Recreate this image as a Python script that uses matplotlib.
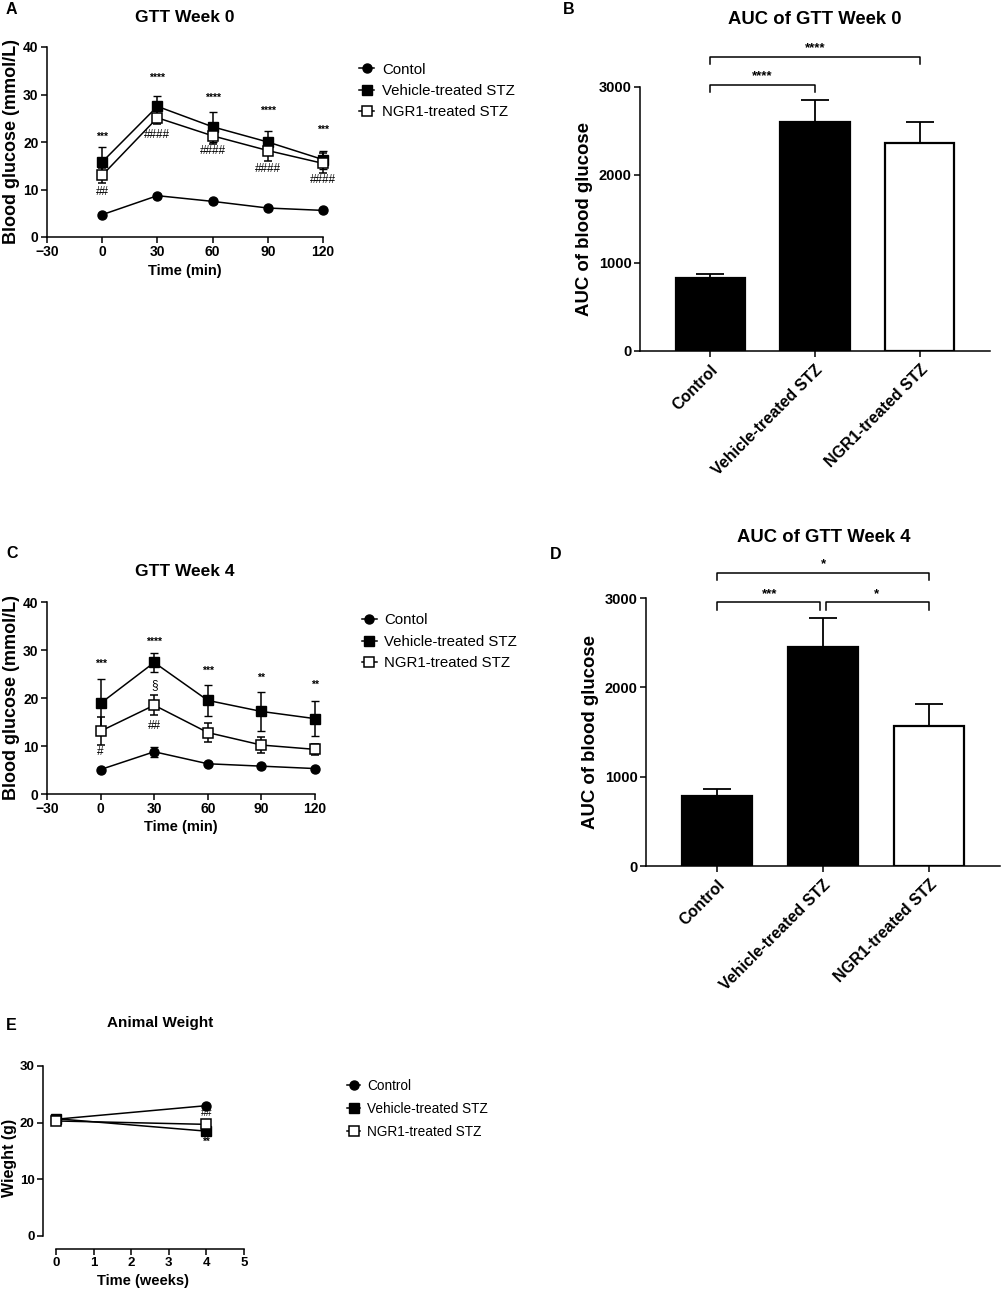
import matplotlib
matplotlib.use('Agg')
import matplotlib.pyplot as plt

plt.rcParams['font.family'] = ['Liberation Sans', 'DejaVu Sans']
plt.rcParams['axes.linewidth'] = 1.1

# ---- GTT time course data (mean, sd) ----
times = [0, 30, 60, 90, 120]
groups_line = ['Contol', 'Vehicle-treated STZ', 'NGR1-treated STZ']

w0_ctrl = [4.7, 8.7, 7.5, 6.1, 5.6]
w0_ctrl_sd = [0.3, 0.4, 0.3, 0.3, 0.3]
w0_veh = [15.8, 27.5, 23.2, 20.0, 16.3]
w0_veh_sd = [3.1, 2.2, 3.1, 2.3, 1.9]
w0_ngr = [13.0, 25.1, 21.3, 18.2, 15.5]
w0_ngr_sd = [1.6, 1.4, 1.7, 2.3, 2.1]
w0_star = ['***', '****', '****', '****', '***']
w0_star_y = [21.0, 33.5, 29.4, 26.5, 22.5]
w0_hash = ['##', '####', '####', '####', '####']
w0_hash_y = [9.4, 21.5, 18.1, 14.3, 11.9]

w4_ctrl = [5.1, 8.8, 6.3, 5.8, 5.3]
w4_ctrl_sd = [0.3, 1.0, 0.3, 0.3, 0.3]
w4_veh = [18.9, 27.4, 19.5, 17.2, 15.7]
w4_veh_sd = [5.0, 2.0, 3.3, 4.0, 3.7]
w4_ngr = [13.1, 18.5, 12.8, 10.2, 9.3]
w4_ngr_sd = [2.9, 2.1, 2.0, 1.6, 1.1]
w4_star = ['***', '****', '***', '**', '**']
w4_star_y = [27.2, 31.7, 25.7, 24.2, 22.7]
w4_hash = ['#', '##']
w4_hash_x = [0, 30]
w4_hash_y = [8.7, 14.2]
w4_sect = '\u00a7'
w4_sect_x = 30
w4_sect_y = 22.7

# ---- AUC data ----
auc_groups = ['Control', 'Vehicle-treated STZ', 'NGR1-treated STZ']
auc_w0 = [830, 2602, 2364]
auc_w0_sd = [45, 250, 238]
# (left bar, right bar, label, bracket height)
auc_w0_cmp = [(0, 1, '****', 3027), (0, 2, '****', 3345)]
auc_w4 = [786, 2446, 1567]
auc_w4_sd = [71, 330, 247]
auc_w4_cmp = [(0, 1, '***', 2951), (1, 2, '*', 2951), (0, 2, '*', 3281)]

# ---- body weight ----
weeks = [0, 4]
groups_wt = ['Control', 'Vehicle-treated STZ', 'NGR1-treated STZ']
wt_ctrl = [20.6, 23.0]
wt_veh = [20.7, 18.5]
wt_ngr = [20.3, 19.7]
wt_ctrl_sd = [0.3, 0.3]
wt_veh_sd = [0.4, 0.6]
wt_ngr_sd = [0.4, 0.6]
wt_marks = ['##', '**']
wt_marks_y = [21.7, 16.6]

fig = plt.figure(figsize=(10.03, 12.94), dpi=100)
W, H = 1003.0, 1294.0


def px_axes(x0, y0, x1, y1):
    # axes from pixel box (top-left origin)
    return fig.add_axes([x0 / W, 1 - y1 / H, (x1 - x0) / W, (y1 - y0) / H])


def style_axes(ax, fs):
    for s in ['top', 'right']:
        ax.spines[s].set_visible(False)
    ax.tick_params(width=1.1, length=4, labelsize=fs, pad=2)
    for lab in ax.get_xticklabels() + ax.get_yticklabels():
        lab.set_fontweight('bold')


def noclip(cont):
    for art in cont.get_children():
        art.set_clip_on(False)


def three_lines(ax, x, ctrl, ctrl_sd, veh, veh_sd, ngr, ngr_sd, cap):
    c1 = ax.errorbar(x, ctrl, yerr=ctrl_sd, color='black', marker='o', ms=6.5, lw=1.1,
                     capsize=cap, elinewidth=1.1)
    c2 = ax.errorbar(x, veh, yerr=veh_sd, color='black', marker='s', ms=6.5, lw=1.1,
                     capsize=cap, elinewidth=1.1)
    c3 = ax.errorbar(x, ngr, yerr=ngr_sd, color='black', marker='s', ms=6.5, lw=1.1,
                     mfc='white', mew=1.1, capsize=cap, elinewidth=1.1)
    for c in (c1, c2, c3):
        noclip(c)
    return [c1[0], c2[0], c3[0]]


def gtt_panel(box, ctrl, ctrl_sd, veh, veh_sd, ngr, ngr_sd, title, letter, letter_xy, title_y, leg_xy):
    ax = px_axes(*box)
    handles = three_lines(ax, times, ctrl, ctrl_sd, veh, veh_sd, ngr, ngr_sd, 3)
    ax.set_xlim(-30, 120)
    ax.set_ylim(0, 40)
    ax.set_xticks([-30, 0, 30, 60, 90, 120])
    ax.set_yticks([0, 10, 20, 30, 40])
    style_axes(ax, 10)
    ax.set_xlabel('Time (min)', fontsize=10.5, fontweight='bold', labelpad=3)
    ax.set_ylabel('Blood glucose (mmol/L)', fontsize=13, fontweight='bold', labelpad=2)
    fig.text(185 / W, 1 - title_y / H, title, fontsize=12.5, fontweight='bold', ha='center', va='center')
    fig.text(letter_xy[0] / W, 1 - letter_xy[1] / H, letter, fontsize=11.5, fontweight='bold', ha='left', va='center')
    ax.legend(handles, groups_line, loc='upper left', bbox_to_anchor=(leg_xy[0] / W, 1 - leg_xy[1] / H),
              bbox_transform=fig.transFigure, frameon=False, fontsize=10.8,
              handlelength=1.0, handletextpad=0.5, labelspacing=0.5, borderpad=0)
    return ax


def auc_panel(box, vals, sds, cmps, title, title_xy, letter, letter_xy):
    ax = px_axes(*box)
    x = list(range(len(vals)))
    ax.bar(x, vals, width=0.66, color=['black', 'black', 'white'], edgecolor='black', linewidth=1.6, zorder=2)
    ax.errorbar(x, vals, yerr=[[0] * len(vals), sds], fmt='none', ecolor='black',
                elinewidth=1.3, capsize=10, capthick=1.3, zorder=1)
    ax.set_xlim(-0.67, 2.67)
    ax.set_ylim(0, 3000)
    ax.set_yticks([0, 1000, 2000, 3000])
    ax.set_xticks(x)
    ax.set_xticklabels(auc_groups, rotation=45, ha='right', rotation_mode='anchor')
    style_axes(ax, 10.5)
    ax.tick_params(axis='x', labelsize=11.5, pad=4)
    ax.set_ylabel('AUC of blood glucose', fontsize=13.4, fontweight='bold', labelpad=4)
    # significance brackets
    for i, j, lab, top in cmps:
        tip = top - 85
        # shared middle bar: leave a small gap between neighbouring brackets
        xi = i + (0.025 if (i > 0) else 0)
        xj = j - (0.025 if (j < len(vals) - 1 and len(cmps) > 2) else 0)
        ax.plot([xi, xi, xj, xj], [tip, top, top, tip], color='black', lw=1.1, clip_on=False)
        ax.text((i + j) / 2, top + 95, lab, ha='center', va='center', fontsize=9.5, fontweight='bold')
    fig.text(title_xy[0] / W, 1 - title_xy[1] / H, title, fontsize=13.3, fontweight='bold', ha='center', va='center')
    fig.text(letter_xy[0] / W, 1 - letter_xy[1] / H, letter, fontsize=11.5, fontweight='bold', ha='left', va='center')
    return ax


# ---- A ----
axA = gtt_panel((47, 47, 323, 237), w0_ctrl, w0_ctrl_sd, w0_veh, w0_veh_sd, w0_ngr, w0_ngr_sd,
                'GTT Week 0', 'A', (6, 10), 18, (352, 55))
for t, s, y in zip(times, w0_star, w0_star_y):
    axA.text(t, y, s, ha='center', va='center', fontsize=7.5, fontweight='bold')
for t, s, y in zip(times, w0_hash, w0_hash_y):
    axA.text(t, y, s, ha='center', va='center', fontsize=8.5)

# ---- B ----
auc_panel((640, 87, 990, 351), auc_w0, auc_w0_sd, auc_w0_cmp, 'AUC of GTT Week 0', (815, 20), 'B', (563, 9))

# ---- C ----
axC = gtt_panel((47, 602, 315, 794), w4_ctrl, w4_ctrl_sd, w4_veh, w4_veh_sd, w4_ngr, w4_ngr_sd,
                'GTT Week 4', 'C', (6, 553), 572, (354, 606))
for t, s, y in zip(times, w4_star, w4_star_y):
    axC.text(t, y, s, ha='center', va='center', fontsize=7.5, fontweight='bold')
for t, s, y in zip(w4_hash_x, w4_hash, w4_hash_y):
    axC.text(t, y, s, ha='center', va='center', fontsize=8.5)
axC.text(w4_sect_x, w4_sect_y, w4_sect, ha='center', va='center', fontsize=8.5)

# ---- D ----
auc_panel((646, 598, 1000, 866), auc_w4, auc_w4_sd, auc_w4_cmp, 'AUC of GTT Week 4', (824, 538), 'D', (550, 555))

# ---- E ----
axE = px_axes(43, 1066, 244, 1249)
hE = three_lines(axE, weeks, wt_ctrl, wt_ctrl_sd, wt_veh, wt_veh_sd, wt_ngr, wt_ngr_sd, 2)
axE.set_xlim(-0.346, 5)
axE.set_ylim(-2.3, 30)
axE.set_xticks([0, 1, 2, 3, 4, 5])
axE.set_yticks([0, 10, 20, 30])
axE.spines['left'].set_bounds(0, 30)
axE.spines['bottom'].set_bounds(0, 5)
style_axes(axE, 9.5)
axE.set_xlabel('Time (weeks)', fontsize=10.5, fontweight='bold', labelpad=3)
axE.set_ylabel('Wieght (g)', fontsize=11.5, fontweight='bold', labelpad=2)
axE.text(weeks[1], wt_marks_y[0], wt_marks[0], ha='center', va='center', fontsize=7.5)
axE.text(weeks[1], wt_marks_y[1], wt_marks[1], ha='center', va='center', fontsize=7, fontweight='bold')
fig.text(160 / W, 1 - 1023 / H, 'Animal Weight', fontsize=11, fontweight='bold', ha='center', va='center')
fig.text(6 / W, 1 - 1025 / H, 'E', fontsize=11.5, fontweight='bold', ha='left', va='center')
axE.legend(hE, groups_wt, loc='upper left', bbox_to_anchor=(340 / W, 1 - 1072 / H), bbox_transform=fig.transFigure,
           frameon=False, fontsize=9.8, handlelength=1.0, handletextpad=0.5, labelspacing=0.65, borderpad=0)

fig.savefig('out.png', dpi=100)
